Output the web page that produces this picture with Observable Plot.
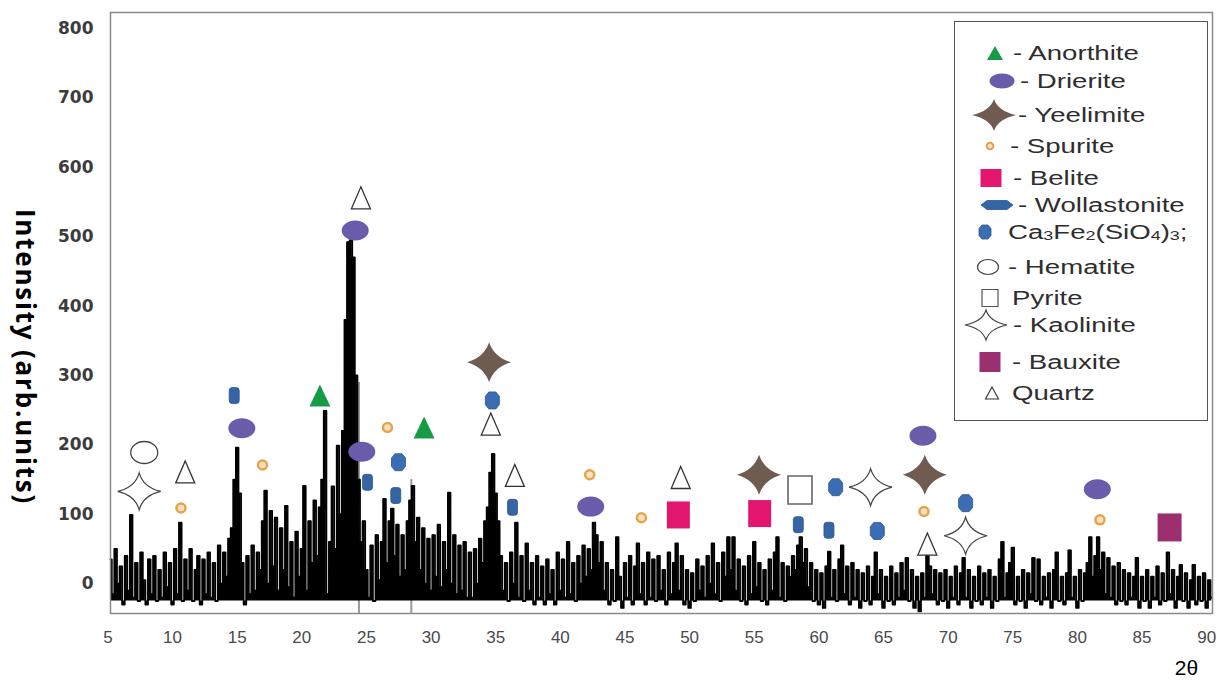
<!DOCTYPE html>
<html><head><meta charset="utf-8">
<script src="https://cdn.jsdelivr.net/npm/d3@7"></script>
<script src="https://cdn.jsdelivr.net/npm/@observablehq/plot@0.6"></script>
<style>
body{margin:0;background:#fff;}
#wrap{position:relative;width:1217px;height:685px;overflow:hidden;font-family:"Liberation Sans",Arial,sans-serif;background:#fff;}
#legendBox{position:absolute;left:954px;top:21px;width:254px;height:400px;border:1.3px solid #555;background:#fff;box-sizing:border-box;}
.lsym{position:absolute;overflow:visible;}
.ltxt{position:absolute;white-space:nowrap;font-size:20px;line-height:22px;color:#2e2e2e;transform:translateY(-50%) scaleX(1.38);transform-origin:0 50%;}
.ltxt sub{font-size:13px;vertical-align:-1px;line-height:0;}
</style></head>
<body><div id="wrap"></div>
<script>
// ---------- DATA ----------
// XRD trace: intensity sampled every 0.2 degrees 2θ starting at 5.2
const traceStart = 5.2;
const traceStep = 0.2;
const intensity = [
 35,-15,50,0,25,-30,40,-10,99,-20,
 30,-25,45,5,-30,35,-15,40,-25,20,
 -20,45,-5,30,-30,50,-15,88,-25,35,
 -10,50,-25,20,40,-30,35,-15,45,-20,
 30,-25,55,0,45,10,65,80,150,196,
 130,30,-30,40,-15,55,-10,45,20,90,
 134,0,105,25,95,-10,80,20,112,-5,
 60,-20,75,10,50,141,-10,90,30,120,
 40,110,150,249,-15,60,140,50,199,100,
 220,380,492,495,470,300,150,60,90,20,
 -20,55,-25,70,5,60,122,30,90,108,
 40,85,10,70,20,90,120,141,60,95,
 20,80,0,65,-10,70,10,85,-5,60,
 20,131,0,70,-15,55,-10,60,-20,45,
 -20,50,0,65,30,90,110,160,187,130,
 90,40,-10,30,-25,45,0,88,-20,40,
 -25,58,-10,30,-30,40,-20,25,-30,35,
 -15,20,-30,45,-10,35,-20,60,-15,30,
 -25,40,0,55,10,50,20,88,70,30,
 60,-10,30,-30,20,-25,67,10,-35,30,
 -20,40,-30,25,58,-15,30,-30,45,-20,
 35,-25,40,-10,20,-30,45,-15,30,58,
 -10,40,-30,20,-35,15,-25,35,-10,25,
 -20,40,0,58,-15,30,-25,45,10,67,
 20,67,-10,35,-25,25,-30,40,-15,60,
 -5,30,-25,20,-30,35,-10,45,67,-20,
 30,-25,25,10,40,20,55,67,30,50,
 -5,30,-25,20,-30,15,-35,25,46,-20,
 20,-25,35,55,-15,25,-30,30,-20,20,
 -35,15,-25,25,-30,10,45,-15,20,-35,
 10,-25,25,-30,15,-20,30,-10,37,-25,
 20,-35,10,-40,15,-20,40,25,-15,20,
 -30,15,-25,20,-35,10,-20,25,-30,15,
 37,-20,20,-35,10,-25,25,-30,15,-20,
 20,-35,10,-25,35,60,-20,15,30,52,
 -30,10,-25,20,-35,15,-15,37,-25,35,
 -30,10,-20,15,-35,20,45,-25,10,-30,
 15,48,-20,10,-35,20,-25,15,30,67,
 10,40,67,20,45,-15,37,-20,25,-30,
 30,-25,20,-30,15,-20,10,37,-35,10,
 -25,20,-35,10,-20,25,-30,15,-25,45,
 -15,20,-35,10,27,-25,15,-35,5,27,
 -30,10,-25,15,-35,5,-20
];
const bandFloor = -25; // lower edge of the dense noise band

// faint vertical reference lines [2θ, top intensity]
const refLines = [[24.42, 290], [28.47, 150]];

// phase markers: [2θ, intensity]
const anorthite = [[21.4, 271], [29.46, 225]];
const drierite = [[15.36, 224], [24.13, 509], [24.64, 190], [42.35, 111], [68.05, 213], [81.54, 136]];
const yeelimite = [[34.49, 319], [55.37, 157], [68.19, 157]];
const spurite = [[10.65, 109], [16.96, 171], [26.63, 225], [42.27, 157], [46.27, 95], [68.13, 104], [81.74, 92]];
const belite = [[49.13, 99], [55.42, 101]];
const wollastonite = [[14.77, 271], [25.08, 146], [27.27, 127], [36.3, 110], [58.41, 85], [60.78, 77]];
const caFeSilicate = [[27.48, 175], [34.74, 264], [61.3, 139], [64.52, 76], [71.35, 116]];
const hematite = [[7.81, 189]];
const pyrite = [[58.54, 135]];
const kaolinite = [[7.42, 133], [64.0, 139], [71.35, 69]];
const bauxite = [[87.13, 81]];
const quartz = [[10.98, 161], [24.57, 556], [34.62, 230], [36.48, 156], [49.31, 153], [68.39, 57]];

const xTicks = [5,10,15,20,25,30,35,40,45,50,55,60,65,70,75,80,85,90];
const yTicks = [0,100,200,300,400,500,600,700,800];

// ---------- SYMBOLS ----------
function ellipseSym(w,h){return {draw(c){const rx=w/2,ry=h/2,k=0.5523;
 c.moveTo(rx,0);c.bezierCurveTo(rx,ry*k,rx*k,ry,0,ry);c.bezierCurveTo(-rx*k,ry,-rx,ry*k,-rx,0);
 c.bezierCurveTo(-rx,-ry*k,-rx*k,-ry,0,-ry);c.bezierCurveTo(rx*k,-ry,rx,-ry*k,rx,0);c.closePath();}};}
function star4(w,h,k){return {draw(c){c.moveTo(0,-h/2);c.quadraticCurveTo(k,-k,w/2,0);c.quadraticCurveTo(k,k,0,h/2);
 c.quadraticCurveTo(-k,k,-w/2,0);c.quadraticCurveTo(-k,-k,0,-h/2);c.closePath();}};}
function rectSym(w,h,r){return {draw(c){r=r||0;const x0=-w/2,y0=-h/2,x1=w/2,y1=h/2;
 if(!r){c.moveTo(x0,y0);c.lineTo(x1,y0);c.lineTo(x1,y1);c.lineTo(x0,y1);c.closePath();return;}
 c.moveTo(x0+r,y0);c.arcTo(x1,y0,x1,y1,r);c.arcTo(x1,y1,x0,y1,r);c.arcTo(x0,y1,x0,y0,r);c.arcTo(x0,y0,x1,y0,r);c.closePath();}};}
function triSym(w,h){return {draw(c){c.moveTo(0,-h/2);c.lineTo(w/2,h/2);c.lineTo(-w/2,h/2);c.closePath();}};}
function octSym(w,h){return {draw(c){c.moveTo(-w/2,-h/4);c.lineTo(-w/4,-h/2);c.lineTo(w/4,-h/2);c.lineTo(w/2,-h/4);
 c.lineTo(w/2,h/4);c.lineTo(w/4,h/2);c.lineTo(-w/4,h/2);c.lineTo(-w/2,h/4);c.closePath();}};}
function lensSym(w,h){return {draw(c){c.moveTo(-w/2,0);c.lineTo(-w/2+6,-h/2);c.lineTo(w/2-6,-h/2);c.lineTo(w/2,0);
 c.lineTo(w/2-6,h/2);c.lineTo(-w/2+6,h/2);c.closePath();}};}
function circleSym(r){return {draw(c){c.moveTo(r,0);c.arc(0,0,r,0,2*Math.PI);c.closePath();}};}

const C = {
  anorthite:"#169a48", drierite:"#6a5cab", yeelimite:"#6f5b4f", spuriteS:"#e8a24e", spuriteF:"#fbe4bd",
  belite:"#e3166f", wollastonite:"#3565a5", hex:"#3a6db3", bauxite:"#9c2f6f"
};

const layers = [
  {pts: kaolinite, sym: star4(43,37,4), fill:"#fff", stroke:"#444", sw:1.2},
  {pts: hematite, sym: ellipseSym(27,22), fill:"#fff", stroke:"#444", sw:1.3},
  {pts: pyrite, sym: rectSym(24,28), fill:"#fff", stroke:"#666", sw:1.6},
  {pts: quartz, sym: triSym(19,22), fill:"#fff", stroke:"#333", sw:1.3},
  {pts: anorthite, sym: triSym(21,22), fill:C.anorthite, stroke:"none", sw:0},
  {pts: drierite, sym: ellipseSym(27,20), fill:C.drierite, stroke:"none", sw:0},
  {pts: yeelimite, sym: star4(44,40,5), fill:C.yeelimite, stroke:"none", sw:0},
  {pts: spurite, sym: circleSym(4.5), fill:C.spuriteF, stroke:C.spuriteS, sw:2.5},
  {pts: belite, sym: rectSym(23,27), fill:C.belite, stroke:"none", sw:0},
  {pts: wollastonite, sym: rectSym(10,16,3), fill:C.wollastonite, stroke:"#2d5690", sw:0.8},
  {pts: caFeSilicate, sym: octSym(14,17), fill:C.hex, stroke:"#2d5690", sw:0.8},
  {pts: bauxite, sym: rectSym(24,28), fill:C.bauxite, stroke:"none", sw:0}
];

const trace = intensity.map((v,i)=>({t: +(traceStart + i*traceStep).toFixed(2), v}));

const chart = Plot.plot({
  width: 1217, height: 685,
  marginLeft: 110, marginRight: 5, marginTop: 12, marginBottom: 72,
  style: {background: "transparent", overflow: "visible"},
  x: {domain: [5.2, 90.45]},
  y: {domain: [-43, 823]},
  marks: [
    Plot.ruleX(refLines, {x: d=>d[0], y1: -43, y2: d=>d[1], stroke: "#9a9a9a", strokeWidth: 2}),
    Plot.areaY(trace, {x: "t", y1: bandFloor, y2: "v", curve: "step", fill: "#000"}),
    Plot.line(trace, {x: "t", y: "v", curve: "step", stroke: "#000", strokeWidth: 1.8}),
    ...layers.map(L => Plot.dot(L.pts, {x: d=>d[0], y: d=>d[1], symbol: L.sym, r: 5, fill: L.fill, stroke: L.stroke, strokeWidth: L.sw})),
    Plot.frame({stroke: "#8a8a8a", strokeWidth: 1.5}),
    Plot.axisX({ticks: xTicks, tickSize: 0, tickPadding: 17, label: null, fontSize: 17, fontFamily: "'Liberation Sans Narrow','Liberation Sans',sans-serif", fill: "#4a4a4a"}),
    Plot.axisY({ticks: yTicks, tickSize: 0, tickPadding: 17, label: null, fontSize: 17, fontWeight: "bold", fontFamily: "'DejaVu Sans',sans-serif", fill: "#3c3c3c"}),
    Plot.text(["Intensity (arb.units)"], {frameAnchor: "left", textAnchor: "middle", rotate: 90, dx: -86, dy: 44, fontSize: 26, fontWeight: "bold", fontFamily: "'Open Sans',sans-serif", fill: "#000"}),
    Plot.text(["2θ"], {frameAnchor: "bottom-right", textAnchor: "middle", lineAnchor: "middle", dx: -26, dy: 55, fontSize: 21, fontFamily: "'Liberation Sans Narrow','Liberation Sans',sans-serif", fill: "#000"})
  ]
});
const wrap = document.getElementById("wrap");
wrap.appendChild(chart);
d3.select(chart).selectAll("text").filter(function(){ return this.textContent === "Intensity (arb.units)"; })
  .style("letter-spacing", "1.8px");

// ---------- LEGEND (HTML overlay inside plot area) ----------
const box = document.createElement("div"); box.id = "legendBox"; wrap.appendChild(box);
const legend = [
  {sym: triSym(16,14), fill: C.anorthite, stroke: "none", sw: 0, cx: 995, cy: 53, tx: 1013, html: "- Anorthite"},
  {sym: ellipseSym(25,15), fill: C.drierite, stroke: "none", sw: 0, cx: 1002, cy: 81, tx: 1020, html: "- Drierite"},
  {sym: star4(44,32,4), fill: C.yeelimite, stroke: "none", sw: 0, cx: 994, cy: 115, tx: 1018, html: "- Yeelimite"},
  {sym: circleSym(3.3), fill: C.spuriteF, stroke: C.spuriteS, sw: 2, cx: 990, cy: 146, tx: 1010, html: "- Spurite"},
  {sym: rectSym(21,18), fill: C.belite, stroke: "none", sw: 0, cx: 991, cy: 178, tx: 1013, html: "- Belite"},
  {sym: lensSym(32,9), fill: C.wollastonite, stroke: "#2d5690", sw: 0.8, cx: 997, cy: 205, tx: 1018, html: "- Wollastonite"},
  {sym: octSym(12,14), fill: C.hex, stroke: "#2d5690", sw: 0.8, cx: 985, cy: 232, tx: 1008, html: "Ca<sub>3</sub>Fe<sub>2</sub>(SiO<sub>4</sub>)<sub>3</sub>;"},
  {sym: ellipseSym(21,15), fill: "#fff", stroke: "#444", sw: 1.2, cx: 988, cy: 267, tx: 1008, html: "- Hematite"},
  {sym: rectSym(16,17), fill: "#fff", stroke: "#555", sw: 1.2, cx: 990, cy: 298, tx: 1012, html: "Pyrite"},
  {sym: star4(42,30,3.5), fill: "#fff", stroke: "#444", sw: 1.1, cx: 986, cy: 325, tx: 1013, html: "- Kaolinite"},
  {sym: rectSym(21,20), fill: C.bauxite, stroke: "none", sw: 0, cx: 990, cy: 362, tx: 1012, html: "- Bauxite"},
  {sym: triSym(13,12), fill: "#fff", stroke: "#333", sw: 1.1, cx: 992, cy: 393, tx: 1012, html: "Quartz"}
];
legend.forEach(e => {
  const p = d3.path(); e.sym.draw(p);
  const s = d3.create("svg").attr("class","lsym").attr("width",1).attr("height",1)
    .style("left", e.cx+"px").style("top", e.cy+"px");
  s.append("path").attr("d", p.toString()).attr("fill", e.fill).attr("stroke", e.stroke).attr("stroke-width", e.sw);
  wrap.appendChild(s.node());
  const t = document.createElement("div"); t.className = "ltxt";
  t.style.left = e.tx+"px"; t.style.top = e.cy+"px"; t.innerHTML = e.html;
  wrap.appendChild(t);
});
</script>
</body></html>
